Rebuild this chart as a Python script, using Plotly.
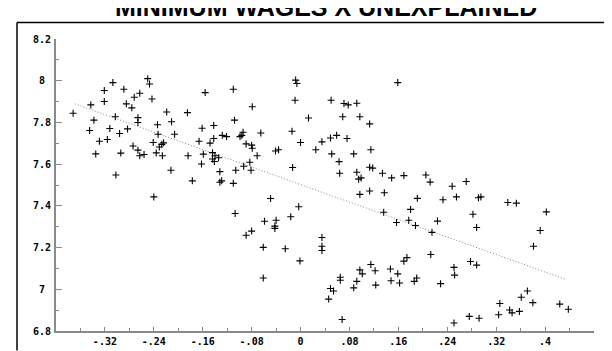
import plotly.graph_objects as go

# ---- data ----
unexplained = [
    -0.343, -0.372, -0.307, -0.321, -0.321, -0.289, -0.250, -0.247, -0.272, -0.263,
    -0.243, -0.285, -0.276, -0.303, -0.338, -0.345, -0.312, -0.296, -0.283, -0.266,
    -0.266, -0.329, -0.316, -0.335, -0.294, -0.274, -0.266, -0.263, -0.256, -0.302,
    -0.234, -0.233, -0.219, -0.211, -0.185, -0.156, -0.110, -0.079, -0.108, -0.161,
    -0.142, -0.206, -0.241, -0.224, -0.227, -0.231, -0.236, -0.226, -0.184, -0.166,
    -0.148, -0.142, -0.128, -0.121, -0.099, -0.094, -0.096, -0.089, -0.080, -0.079,
    -0.159, -0.144, -0.140, -0.134, -0.144, -0.141, -0.162, -0.212, -0.132, -0.106,
    -0.093, -0.083, -0.081, -0.177, -0.132, -0.129, -0.110, -0.071,
    -0.008, -0.006, 0.159, -0.009, 0.050, 0.071, 0.078, 0.092, 0.013, 0.069,
    0.097, 0.113, -0.014, -0.065, 0.000, 0.035, 0.049, 0.059, 0.076, -0.041,
    -0.036, 0.025, 0.051, 0.087, 0.115, 0.063, -0.013, 0.113, 0.118, 0.064,
    0.092, 0.134, 0.169, 0.095, 0.099, 0.149,
    -0.049, -0.003, 0.097, 0.113, 0.137, -0.107, -0.016, 0.136, 0.157, -0.059,
    -0.040, -0.042, -0.042, -0.080, -0.089, 0.035, 0.035, 0.035, -0.061, -0.025,
    -0.001, -0.061, 0.115, 0.097, 0.101, 0.122, 0.147, 0.169, 0.174, 0.159,
    0.065, 0.065, 0.092, 0.148, 0.162, 0.123, 0.087, 0.049, 0.054, 0.046,
    0.068,
    0.205, 0.212, 0.248, 0.271, 0.191, 0.233, 0.255, 0.291, 0.295, 0.339,
    0.353, 0.402, 0.282, 0.180, 0.177, 0.224,
    0.188, 0.288, 0.392, 0.381, 0.215, 0.213, 0.186, 0.190, 0.229, 0.251,
    0.252, 0.278, 0.288, 0.371, 0.361, 0.380, 0.326, 0.342, 0.346, 0.358,
    0.324, 0.424, 0.438, 0.276, 0.292, 0.251,
    -0.240,
]
min_wage = [
    7.884, 7.844, 7.991, 7.953, 7.900, 7.959, 8.010, 7.984, 7.921, 7.940,
    7.912, 7.889, 7.870, 7.827, 7.811, 7.761, 7.771, 7.747, 7.769, 7.823,
    7.800, 7.710, 7.718, 7.649, 7.653, 7.687, 7.667, 7.640, 7.646, 7.548,
    7.789, 7.743, 7.850, 7.803, 7.847, 7.943, 7.959, 7.875, 7.811, 7.772,
    7.785, 7.743, 7.704, 7.702, 7.695, 7.682, 7.654, 7.640, 7.640, 7.710,
    7.701, 7.723, 7.738, 7.732, 7.732, 7.753, 7.738, 7.697, 7.691, 7.676,
    7.648, 7.655, 7.640, 7.631, 7.625, 7.613, 7.601, 7.571, 7.564, 7.571,
    7.590, 7.609, 7.571, 7.520, 7.513, 7.520, 7.508, 7.640,
    8.003, 7.987, 7.991, 7.906, 7.906, 7.891, 7.884, 7.892, 7.821, 7.827,
    7.827, 7.793, 7.758, 7.749, 7.704, 7.707, 7.725, 7.738, 7.723, 7.663,
    7.669, 7.669, 7.649, 7.649, 7.669, 7.612, 7.584, 7.585, 7.581, 7.556,
    7.561, 7.556, 7.545, 7.528, 7.534, 7.534,
    7.435, 7.396, 7.455, 7.471, 7.463, 7.363, 7.348, 7.369, 7.320, 7.326,
    7.331, 7.303, 7.292, 7.279, 7.259, 7.248, 7.206, 7.186, 7.201, 7.194,
    7.136, 7.054, 7.119, 7.093, 7.074, 7.089, 7.097, 7.135, 7.152, 7.074,
    7.058, 7.043, 7.038, 7.041, 7.030, 7.020, 7.007, 7.004, 6.992, 6.953,
    6.855,
    7.548, 7.514, 7.494, 7.517, 7.436, 7.429, 7.443, 7.439, 7.443, 7.416,
    7.413, 7.371, 7.360, 7.383, 7.331, 7.327,
    7.306, 7.296, 7.282, 7.206, 7.273, 7.167, 7.038, 7.054, 7.027, 7.105,
    7.068, 7.133, 7.116, 6.992, 6.962, 6.936, 6.932, 6.901, 6.887, 6.894,
    6.878, 6.929, 6.904, 6.870, 6.861, 6.838,
    7.443,
]

# fitted line end points
fit_x = [-0.369, 0.434]
fit_y = [7.889, 7.047]

x_tick_vals = [-0.32, -0.24, -0.16, -0.08, 0, 0.08, 0.16, 0.24, 0.32, 0.40]
x_tick_text = ["-.32", "-.24", "-.16", "-.08", "0", ".08", ".16", ".24", ".32", ".4"]
y_tick_vals = [6.8, 7.0, 7.2, 7.4, 7.6, 7.8, 8.0, 8.2]
y_tick_text = ["6.8", "7", "7.2", "7.4", "7.6", "7.8", "8", "8.2"]

title_text = "MINIMUM WAGES X UNEXPLAINED"

W, H = 612, 351
L, R, T, B = 48, 26, 31, 20
pw, ph = W - L - R, H - T - B

def px_x(p):
    return (p - L) / pw

def px_y(p):
    return (H - B - p) / ph

fig = go.Figure()
fig.add_trace(go.Scatter(
    x=fit_x, y=fit_y, mode="lines",
    line=dict(color="#888888", width=1, dash="1px,2px"),
    hoverinfo="skip", showlegend=False,
))
fig.add_trace(go.Scatter(
    x=unexplained, y=min_wage, mode="markers",
    marker=dict(symbol="cross-thin", size=5, color="black",
                line=dict(color="black", width=1.1)),
    showlegend=False,
))

tick_font = dict(family="DejaVu Sans Mono", size=10, color="black")

fig.update_xaxes(
    range=[-0.40, 0.48], showline=True, linecolor="#8a8a8a", linewidth=2,
    ticks="inside", ticklen=4, tickwidth=1, tickcolor="#8a8a8a",
    tickvals=x_tick_vals, ticktext=["<b>" + t + "</b>" for t in x_tick_text],
    tickfont=tick_font, showgrid=False, zeroline=False,
    minor=dict(ticks="inside", ticklen=3, tickwidth=1, tickcolor="#8a8a8a",
               tick0=-0.40, dtick=0.04, showgrid=False),
)
fig.update_yaxes(
    range=[6.8, 8.2], showline=True, linecolor="#8a8a8a", linewidth=2,
    ticks="inside", ticklen=6, tickwidth=1, tickcolor="#8a8a8a",
    tickvals=y_tick_vals, showticklabels=False,
    showgrid=False, zeroline=False,
    minor=dict(ticks="inside", ticklen=3, tickwidth=1, tickcolor="#8a8a8a",
               tick0=6.8, dtick=0.1, showgrid=False),
)

annotations = []
for v, t in zip(y_tick_vals, y_tick_text):
    annotations.append(dict(
        x=px_x(33.5), xref="paper", y=v, yref="y", text="<b>" + t + "</b>",
        showarrow=False, xanchor="center", yanchor="middle", font=tick_font,
    ))
annotations.append(dict(
    x=px_x(318), xref="paper", y=px_y(15), yref="paper",
    text="<b>" + title_text + "</b>", showarrow=False,
    xanchor="center", yanchor="bottom",
    font=dict(family="Liberation Sans", size=25, color="black"),
))

shapes = [
    dict(type="line", xref="paper", yref="paper",
         x0=px_x(9), x1=px_x(W), y0=px_y(14), y1=px_y(14),
         line=dict(color="black", width=1.5)),
    dict(type="line", xref="paper", yref="paper",
         x0=px_x(9), x1=px_x(9), y0=px_y(14), y1=px_y(H),
         line=dict(color="black", width=1.5)),
]

fig.update_layout(
    width=W, height=H, margin=dict(l=L, r=R, t=T, b=B, pad=0),
    paper_bgcolor="white", plot_bgcolor="white",
    annotations=annotations, shapes=shapes,
)

fig.write_html("out.html")
